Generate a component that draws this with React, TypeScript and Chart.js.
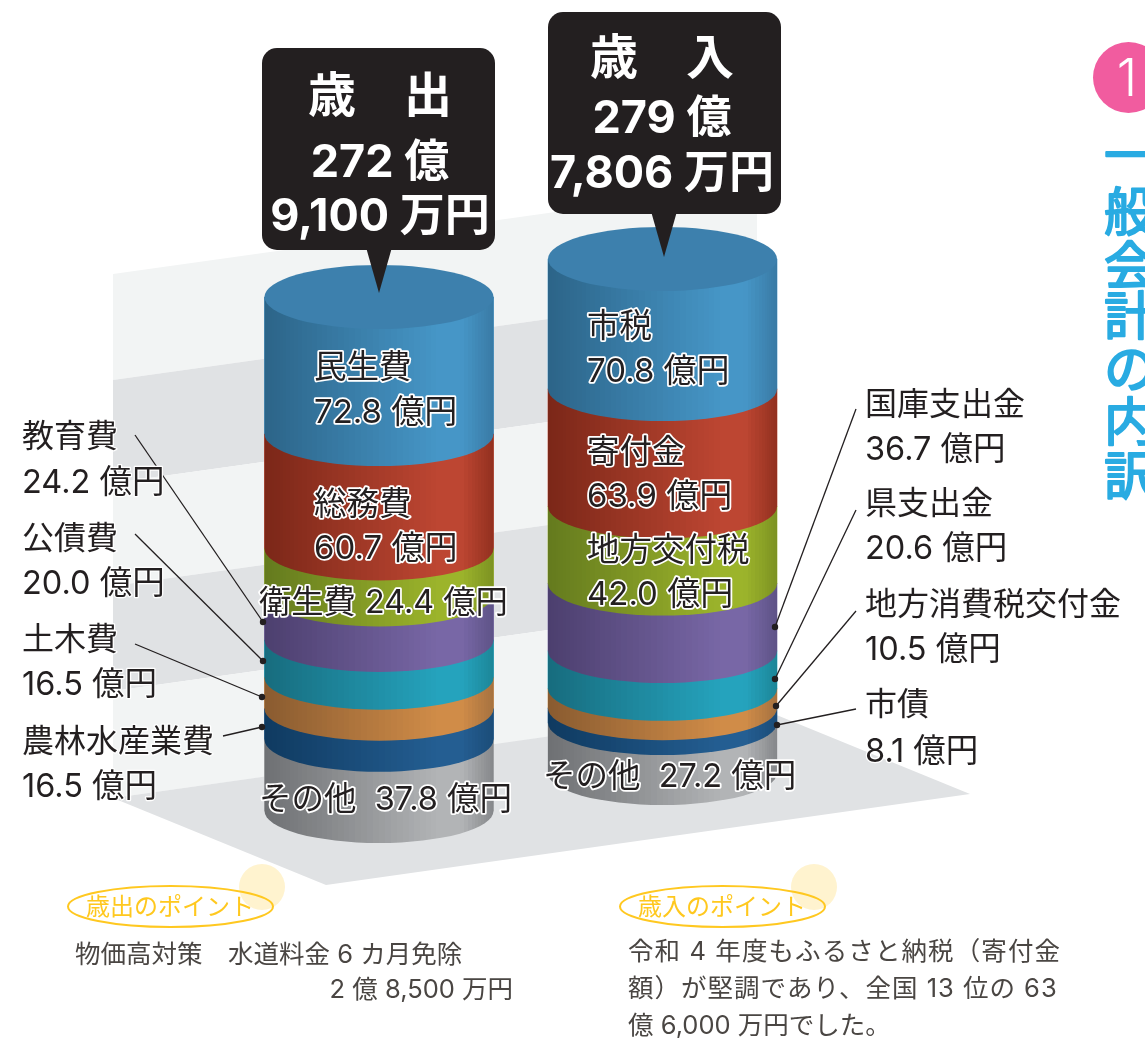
import React, { useEffect, useRef } from "react";
import { Chart, registerables } from "chart.js";

Chart.register(...registerables);

const categories = ["歳出", "歳入"];
const expenseNames = ["その他", "農林水産業費", "土木費", "公債費", "教育費", "衛生費", "総務費", "民生費"];
const expenseValues = [37.8, 16.5, 16.5, 20.0, 24.2, 24.4, 60.7, 72.8];
const revenueNames = ["その他", "市債", "地方消費税交付金", "県支出金", "国庫支出金", "地方交付税", "寄付金", "市税"];
const revenueValues = [27.2, 8.1, 10.5, 20.6, 36.7, 42.0, 63.9, 70.8];
const totalTitles = ["歳　出", "歳　入"];
const totalAmounts = [["272 億", "9,100 万円"], ["279 億", "7,806 万円"]];

const W = 1145;
const H = 1045;
const RY = 32;
const INK = "#231F20";
const FONT = 'Inter, "Noto Sans CJK JP", "Noto Sans", sans-serif';

// left shade, highlight, right shade for each stacked layer, bottom first
const shades = [
  ["#6E7073", "#B2B4B6", "#85878A"],
  ["#0F3A60", "#245E92", "#1B4C78"],
  ["#895B30", "#D08C48", "#A67240"],
  ["#176C7E", "#25A3BD", "#1C8698"],
  ["#4C3F6E", "#7867A6", "#5E5387"],
  ["#647A1E", "#9CB42B", "#7C9222"],
  ["#7B2718", "#BD4632", "#92301F"],
  ["#2C6488", "#4696C7", "#397AA5"],
];
const topCap = "#3D80AD";

const hex = (c: string) => [1, 3, 5].map((i) => parseInt(c.slice(i, i + 2), 16));
const mix = (a: string, b: string, t: number) => {
  const A = hex(a);
  const B = hex(b);
  return `rgb(${A.map((v, i) => Math.round(v + (B[i] - v) * t)).join(",")})`;
};

function sideFill(ctx: CanvasRenderingContext2D, x0: number, x1: number, s: string[]) {
  const g = ctx.createLinearGradient(x0, 0, x1, 0);
  const N = 60;
  for (let i = 0; i < N; i++) {
    const a = (1 - Math.cos((i / N) * Math.PI)) / 2;
    const b = (1 - Math.cos(((i + 1) / N) * Math.PI)) / 2;
    const m = (a + b) / 2;
    const c =
      m < 0.76 ? mix(s[0], s[1], m / 0.76) : m < 0.86 ? mix(s[1], s[1], 0) : mix(s[1], s[2], (m - 0.86) / 0.14);
    g.addColorStop(a, c);
    g.addColorStop(b, c);
  }
  return g;
}

function label(ctx: CanvasRenderingContext2D, text: string, x: number, y: number, size = 32, halo = 3.5) {
  ctx.font = `400 ${size}px ${FONT}`;
  ctx.textAlign = "left";
  ctx.textBaseline = "middle";
  ctx.lineJoin = "round";
  ctx.lineWidth = halo;
  ctx.strokeStyle = "#FFFFFF";
  ctx.strokeText(text, x, y + 2);
  ctx.fillStyle = INK;
  ctx.fillText(text, x, y + 2);
}

const amount = (v: number) => `${v.toFixed(1)} 億円`;

function roundedBox(ctx: CanvasRenderingContext2D, x: number, y: number, w: number, h: number, tipX: number, tipY: number) {
  ctx.fillStyle = INK;
  ctx.beginPath();
  ctx.roundRect(x, y, w, h, 15);
  ctx.fill();
  ctx.beginPath();
  ctx.moveTo(tipX - 12.5, y + h - 1);
  ctx.lineTo(tipX + 12.5, y + h - 1);
  ctx.lineTo(tipX, tipY);
  ctx.closePath();
  ctx.fill();
}

function leader(ctx: CanvasRenderingContext2D, x0: number, y0: number, x1: number, y1: number) {
  ctx.strokeStyle = INK;
  ctx.lineWidth = 1.3;
  ctx.beginPath();
  ctx.moveTo(x0, y0);
  ctx.lineTo(x1, y1);
  ctx.stroke();
  ctx.fillStyle = INK;
  ctx.beginPath();
  ctx.arc(x1, y1, 3.2, 0, Math.PI * 2);
  ctx.fill();
}

const backdrop = {
  id: "backdrop",
  beforeDatasetsDraw(chart: any) {
    const ctx: CanvasRenderingContext2D = chart.ctx;
    ctx.save();
    const L = 113;
    const R = 757;
    const slope = 0.14;
    const edges = [274, 380, 483, 586, 691, 798];
    edges.slice(0, -1).forEach((y0, i) => {
      const y1 = edges[i + 1];
      ctx.fillStyle = i % 2 ? "#E0E2E4" : "#F2F4F4";
      ctx.beginPath();
      ctx.moveTo(L, y0);
      ctx.lineTo(R, y0 - slope * (R - L));
      ctx.lineTo(R, y1 - slope * (R - L));
      ctx.lineTo(L, y1);
      ctx.closePath();
      ctx.fill();
    });
    ctx.fillStyle = "#E0E2E4";
    ctx.beginPath();
    ctx.moveTo(113, 798);
    ctx.lineTo(757, 707);
    ctx.lineTo(970, 794);
    ctx.lineTo(326, 885);
    ctx.closePath();
    ctx.fill();
    ctx.restore();
  },
};

const cylinders = {
  id: "cylinders",
  afterDatasetsDraw(chart: any) {
    const ctx: CanvasRenderingContext2D = chart.ctx;
    ctx.save();
    const layers = expenseValues.length;
    [0, 1].forEach((col) => {
      for (let i = 0; i < layers; i++) {
        const bar = chart.getDatasetMeta(i * 2 + col).data[col];
        const x0 = bar.x - bar.width / 2;
        const x1 = bar.x + bar.width / 2;
        ctx.fillStyle = sideFill(ctx, x0, x1, shades[i]);
        ctx.beginPath();
        ctx.moveTo(x0, bar.y);
        ctx.lineTo(x1, bar.y);
        ctx.lineTo(x1, bar.base);
        ctx.ellipse(bar.x, bar.base, bar.width / 2, RY, 0, 0, Math.PI);
        ctx.closePath();
        ctx.fill();
        if (i === layers - 1) {
          ctx.fillStyle = topCap;
          ctx.beginPath();
          ctx.ellipse(bar.x, bar.y, bar.width / 2, RY, 0, 0, Math.PI * 2);
          ctx.fill();
        }
      }
    });
    ctx.restore();
  },
};

const annotations = {
  id: "annotations",
  afterDraw(chart: any) {
    const ctx: CanvasRenderingContext2D = chart.ctx;
    ctx.save();

    // leaders
    leader(ctx, 135, 435, 263, 622);
    leader(ctx, 135, 534, 263, 661);
    leader(ctx, 135, 644, 262, 697);
    leader(ctx, 223, 736, 262, 727);
    leader(ctx, 856, 409, 775, 627);
    leader(ctx, 856, 510, 775, 679);
    leader(ctx, 856, 611, 776, 706);
    leader(ctx, 856, 709, 777, 725);

    // callouts
    const boxes = [
      { x: 262, y: 48, tipX: 379, tipY: 293, ys: [98, 163, 217], cx: 380 },
      { x: 548, y: 12, tipX: 664, tipY: 257, ys: [60, 119, 174], cx: 662 },
    ];
    boxes.forEach((b, i) => {
      roundedBox(ctx, b.x, b.y, 233, 202, b.tipX, b.tipY);
      ctx.fillStyle = "#FFFFFF";
      ctx.textAlign = "center";
      ctx.textBaseline = "middle";
      ctx.font = `700 48px ${FONT}`;
      ctx.fillText(totalTitles[i], b.cx, b.ys[0]);
      ctx.font = `700 45px ${FONT}`;
      ctx.fillText(totalAmounts[i][0], b.cx, b.ys[1]);
      ctx.fillText(totalAmounts[i][1], b.cx, b.ys[2]);
    });

    // labels on the left column
    label(ctx, expenseNames[7], 314, 366, 32.5);
    label(ctx, amount(expenseValues[7]), 314, 411, 33);
    label(ctx, expenseNames[6], 314, 503, 32.5);
    label(ctx, amount(expenseValues[6]), 314, 547, 33);
    label(ctx, `${expenseNames[5]} ${amount(expenseValues[5])}`, 259, 601, 32.3);
    label(ctx, `${expenseNames[0]}  ${amount(expenseValues[0])}`, 259, 798, 32.5);

    // labels on the right column
    label(ctx, revenueNames[7], 587, 325, 32.5);
    label(ctx, amount(revenueValues[7]), 587, 370, 33);
    label(ctx, revenueNames[6], 587, 451, 32.5);
    label(ctx, amount(revenueValues[6]), 587, 495, 33);
    label(ctx, revenueNames[5], 587, 549, 32.5);
    label(ctx, amount(revenueValues[5]), 587, 593, 33);
    label(ctx, `${revenueNames[0]}  ${amount(revenueValues[0])}`, 543, 775, 32.5);

    // side labels
    [[4, 435, 481], [3, 537, 582], [2, 638, 683], [1, 740, 785]].forEach(([k, a, b]) => {
      label(ctx, expenseNames[k], 22, a, 32, 2.5);
      label(ctx, amount(expenseValues[k]), 22, b, 32.5, 2.5);
    });
    [[4, 403, 448], [3, 502, 547], [2, 603, 648], [1, 703, 750]].forEach(([k, a, b]) => {
      label(ctx, revenueNames[k], 865, a, 32, 2.5);
      label(ctx, amount(revenueValues[k]), 865, b, 32.5, 2.5);
    });

    // point badges
    [
      { text: "歳出のポイント", x: 68, cx: 262, tx: 86 },
      { text: "歳入のポイント", x: 620, cx: 814, tx: 638 },
    ].forEach((p) => {
      ctx.fillStyle = "#FFF3CF";
      ctx.beginPath();
      ctx.arc(p.cx, 887, 23, 0, Math.PI * 2);
      ctx.fill();
      ctx.strokeStyle = "#FFC820";
      ctx.lineWidth = 2;
      ctx.beginPath();
      ctx.ellipse(p.x + 102.5, 906.5, 102.5, 20.5, 0, 0, Math.PI * 2);
      ctx.stroke();
      ctx.fillStyle = "#FFC81E";
      ctx.font = `400 24px ${FONT}`;
      ctx.textAlign = "left";
      ctx.textBaseline = "middle";
      ctx.fillText(p.text, p.tx, 908);
    });

    // notes
    ctx.fillStyle = "#4A4643";
    ctx.font = `400 25.5px ${FONT}`;
    ctx.textBaseline = "middle";
    ctx.textAlign = "left";
    ctx.fillText("物価高対策　水道料金 6 カ月免除", 75, 955);
    (ctx as any).letterSpacing = "1.1px";
    ctx.fillText("令和 4 年度もふるさと納税（寄付金", 628, 952);
    (ctx as any).letterSpacing = "1px";
    ctx.fillText("額）が堅調であり、全国 13 位の 63", 628, 989);
    (ctx as any).letterSpacing = "0px";
    ctx.fillText("億 6,000 万円でした。", 628, 1026);
    ctx.textAlign = "right";
    ctx.fillText("2 億 8,500 万円", 513, 990);

    // section marker
    ctx.fillStyle = "#F15C9F";
    ctx.beginPath();
    ctx.arc(1128.5, 77.5, 35.5, 0, Math.PI * 2);
    ctx.fill();
    ctx.fillStyle = "#FFFFFF";
    ctx.textAlign = "center";
    ctx.font = `300 52px ${FONT}`;
    ctx.fillText("1", 1127, 80);

    // vertical section title
    ctx.fillStyle = "#29ABE2";
    ctx.strokeStyle = "#29ABE2";
    ctx.lineWidth = 2;
    ctx.lineJoin = "round";
    ctx.font = `400 52px ${FONT}`;
    ["一", "般", "会", "計", "の", "内", "訳"].forEach((c, i) => {
      const y = [159, 215, 269, 319, 372, 425, 479][i];
      ctx.strokeText(c, 1130, y);
      ctx.fillText(c, 1130, y);
    });
    ctx.restore();
  },
};

export default function App() {
  const ref = useRef<HTMLCanvasElement>(null);
  useEffect(() => {
    const datasets: any[] = [];
    expenseValues.forEach((v, i) => {
      const common = { backgroundColor: shades[i][1], borderWidth: 0, barThickness: 229, skipNull: true };
      datasets.push({ ...common, label: expenseNames[i], data: [v, null], yAxisID: "y" });
      datasets.push({ ...common, label: revenueNames[i], data: [null, revenueValues[i]], yAxisID: "y2" });
    });
    const height = 514;
    const expenseTotal = expenseValues.reduce((a, b) => a + b, 0);
    const revenueTotal = revenueValues.reduce((a, b) => a + b, 0);
    const range = (base: number, total: number) => {
      const unit = total / height;
      return { min: -(H - base) * unit, max: base * unit };
    };
    const chart = new Chart(ref.current!, {
      type: "bar",
      data: { labels: categories, datasets },
      plugins: [backdrop, cylinders, annotations],
      options: {
        responsive: false,
        animation: false,
        layout: { padding: { left: 237.25, right: W - 804.25, top: 0, bottom: 0 } },
        plugins: { legend: { display: false }, tooltip: { enabled: false } },
        scales: {
          x: { stacked: true, display: false },
          y: { stacked: true, display: false, ...range(811, expenseTotal) },
          y2: { stacked: true, display: false, ...range(773, revenueTotal) },
        },
      },
    } as any);
    return () => chart.destroy();
  }, []);
  return (
    <canvas
      ref={ref}
      width={W}
      height={H}
      style={{ position: "absolute", left: 0, top: 0, width: W, height: H, display: "block" }}
    />
  );
}
